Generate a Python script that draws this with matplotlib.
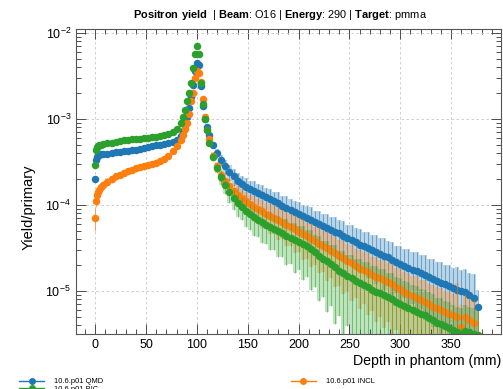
import matplotlib
matplotlib.use("Agg")
import matplotlib.pyplot as plt
import numpy as np
from matplotlib.lines import Line2D
from matplotlib.ticker import MultipleLocator, LogLocator, NullFormatter

plt.rcParams["font.family"] = ["Liberation Sans", "DejaVu Sans"]
plt.rcParams["mathtext.fontset"] = "custom"
plt.rcParams["mathtext.rm"] = "Liberation Sans"
plt.rcParams["mathtext.bf"] = "Liberation Sans:bold"

# Depth bins (mm)
depth = np.concatenate([
    [0, 1, 2, 3, 4, 6, 8],
    np.arange(12, 85, 4),
    np.arange(86, 113, 2),
    np.arange(116, 377, 4),
])

# Yield/primary, 10.6.p01 QMD
yield_qmd = [
    2.0e-4, 3.3e-4, 3.6e-4, 3.75e-4, 3.8e-4, 3.85e-4, 3.9e-4,
    3.95e-4, 4.0e-4, 4.1e-4, 4.15e-4, 4.2e-4, 4.25e-4, 4.35e-4, 4.4e-4, 4.5e-4, 4.6e-4,
    4.7e-4, 4.8e-4, 4.9e-4, 5.0e-4, 5.1e-4, 5.2e-4, 5.35e-4, 5.6e-4, 6.3e-4,
    7.2e-4, 8.5e-4, 1.05e-3, 1.35e-3, 1.8e-3, 2.5e-3, 3.6e-3, 4.4e-3, 4.2e-3, 2.4e-3,
    1.4e-3, 1.0e-3, 8.0e-4, 6.5e-4,
    5.0e-4, 4.0e-4, 3.3e-4, 2.8e-4, 2.4e-4, 2.15e-4, 1.9e-4, 1.75e-4, 1.62e-4, 1.52e-4,
    1.45e-4, 1.37e-4, 1.3e-4, 1.22e-4, 1.16e-4, 1.1e-4, 1.04e-4, 9.8e-5, 9.3e-5, 8.8e-5,
    8.3e-5, 7.9e-5, 7.5e-5, 7.1e-5, 6.7e-5, 6.3e-5, 6.0e-5, 5.7e-5, 5.4e-5, 5.1e-5,
    4.9e-5, 4.7e-5, 4.4e-5, 4.1e-5, 3.9e-5, 3.7e-5, 3.45e-5, 3.3e-5, 3.15e-5, 3.0e-5,
    2.85e-5, 2.7e-5, 2.55e-5, 2.45e-5, 2.3e-5, 2.15e-5, 2.05e-5, 1.95e-5, 1.85e-5, 1.75e-5,
    1.7e-5, 1.62e-5, 1.55e-5, 1.45e-5, 1.38e-5, 1.3e-5, 1.25e-5, 1.2e-5, 1.13e-5, 1.08e-5,
    1.04e-5, 1.0e-5, 9.6e-6, 8.9e-6, 8.3e-6, 6.5e-6,
]

# Yield/primary, 10.6.p01 BIC
yield_bic = [
    2.9e-4, 4.4e-4, 4.7e-4, 4.8e-4, 4.9e-4, 5.0e-4, 5.1e-4,
    5.2e-4, 5.3e-4, 5.4e-4, 5.5e-4, 5.6e-4, 5.7e-4, 5.8e-4, 5.85e-4, 5.9e-4, 6.0e-4,
    6.05e-4, 6.1e-4, 6.2e-4, 6.3e-4, 6.45e-4, 6.6e-4, 7.0e-4, 7.6e-4, 9.0e-4,
    1.05e-3, 1.25e-3, 1.6e-3, 2.0e-3, 2.6e-3, 3.9e-3, 5.6e-3, 7.1e-3, 5.6e-3, 2.6e-3,
    1.5e-3, 1.0e-3, 7.4e-4, 5.3e-4,
    3.6e-4, 2.7e-4, 2.1e-4, 1.7e-4, 1.42e-4, 1.2e-4, 1.05e-4, 9.5e-5, 8.6e-5, 7.8e-5,
    7.2e-5, 6.7e-5, 6.3e-5, 5.9e-5, 5.6e-5, 5.3e-5, 5.0e-5, 4.7e-5, 4.4e-5, 4.1e-5,
    3.9e-5, 3.7e-5, 3.5e-5, 3.3e-5, 3.05e-5, 2.8e-5, 2.55e-5, 2.35e-5, 2.2e-5, 2.05e-5,
    1.9e-5, 1.7e-5, 1.6e-5, 1.5e-5, 1.4e-5, 1.32e-5, 1.25e-5, 1.17e-5, 1.1e-5, 1.04e-5,
    9.8e-6, 9.4e-6, 8.9e-6, 8.4e-6, 8.0e-6, 7.5e-6, 7.1e-6, 6.7e-6, 6.3e-6, 6.0e-6,
    5.7e-6, 5.4e-6, 5.2e-6, 4.9e-6, 4.6e-6, 4.3e-6, 4.1e-6, 3.9e-6, 3.7e-6, 3.5e-6,
    3.3e-6, 3.2e-6, 3.4e-6, 3.3e-6, 3.2e-6, 3.1e-6,
]

# Yield/primary, 10.6.p01 INCL
yield_incl = [
    7.1e-5, 1.1e-4, 1.3e-4, 1.4e-4, 1.5e-4, 1.6e-4, 1.7e-4,
    1.85e-4, 2.0e-4, 2.15e-4, 2.25e-4, 2.35e-4, 2.45e-4, 2.55e-4, 2.65e-4, 2.75e-4, 2.8e-4,
    2.9e-4, 3.0e-4, 3.1e-4, 3.2e-4, 3.4e-4, 3.7e-4, 4.2e-4, 4.8e-4, 5.6e-4,
    6.5e-4, 7.6e-4, 8.9e-4, 1.15e-3, 1.6e-3, 2.0e-3, 3.0e-3, 3.6e-3, 3.4e-3, 2.7e-3,
    1.7e-3, 1.05e-3, 7.5e-4, 5.8e-4,
    3.7e-4, 2.8e-4, 2.25e-4, 1.9e-4, 1.65e-4, 1.45e-4, 1.3e-4, 1.2e-4, 1.1e-4, 1.02e-4,
    9.5e-5, 8.9e-5, 8.4e-5, 7.9e-5, 7.5e-5, 7.1e-5, 6.7e-5, 6.3e-5, 5.9e-5, 5.6e-5,
    5.2e-5, 4.9e-5, 4.6e-5, 4.3e-5, 4.0e-5, 3.8e-5, 3.55e-5, 3.35e-5, 3.15e-5, 2.95e-5,
    2.75e-5, 2.55e-5, 2.4e-5, 2.25e-5, 2.1e-5, 1.95e-5, 1.8e-5, 1.75e-5, 1.65e-5, 1.55e-5,
    1.45e-5, 1.4e-5, 1.33e-5, 1.27e-5, 1.2e-5, 1.1e-5, 1.05e-5, 9.8e-6, 9.3e-6, 8.8e-6,
    8.3e-6, 7.9e-6, 7.4e-6, 7.0e-6, 6.6e-6, 6.3e-6, 6.0e-6, 5.7e-6, 5.4e-6, 5.2e-6,
    5.0e-6, 3.8e-6, 5.0e-6, 4.6e-6, 4.2e-6, 3.1e-6,
]

# Relative statistical errors
relerr_qmd = [
    0.08, 0.05, 0.05, 0.05, 0.05, 0.05, 0.05,
    0.05, 0.05, 0.06, 0.05, 0.05, 0.06, 0.05, 0.05, 0.06, 0.05,
    0.05, 0.05, 0.06, 0.05, 0.05, 0.05, 0.05, 0.04, 0.04,
    0.04, 0.03, 0.03, 0.03, 0.02, 0.02, 0.02, 0.02, 0.02, 0.02,
    0.03, 0.03, 0.04, 0.05,
    0.08, 0.12, 0.15, 0.18, 0.2, 0.22, 0.25, 0.24, 0.28, 0.26,
    0.3, 0.27, 0.31, 0.29, 0.33, 0.3, 0.34, 0.31, 0.36, 0.32,
    0.35, 0.38, 0.33, 0.37, 0.4, 0.35, 0.42, 0.38, 0.44, 0.4,
    0.46, 0.41, 0.48, 0.43, 0.5, 0.45, 0.52, 0.47, 0.55, 0.5,
    0.58, 0.52, 0.6, 0.54, 0.62, 0.56, 0.64, 0.58, 0.66, 0.6,
    0.68, 0.62, 0.7, 0.64, 0.72, 0.66, 0.75, 0.68, 0.78, 0.7,
    0.82, 0.75, 0.85, 0.8, 0.9, 0.6,
]
relerr_bic = [
    0.06, 0.04, 0.04, 0.04, 0.04, 0.04, 0.04,
    0.04, 0.05, 0.04, 0.04, 0.05, 0.04, 0.04, 0.05, 0.04, 0.04,
    0.05, 0.04, 0.04, 0.04, 0.05, 0.04, 0.04, 0.04, 0.03,
    0.03, 0.03, 0.02, 0.02, 0.02, 0.02, 0.02, 0.02, 0.02, 0.02,
    0.03, 0.03, 0.04, 0.05,
    0.1, 0.14, 0.18, 0.22, 0.26, 0.28, 0.32, 0.3, 0.36, 0.34,
    0.4, 0.37, 0.43, 0.4, 0.47, 0.44, 0.5, 0.47, 0.55, 0.5,
    0.58, 0.53, 0.62, 0.56, 0.66, 0.6, 0.7, 0.64, 0.74, 0.67,
    0.78, 0.7, 0.82, 0.74, 0.86, 0.78, 0.9, 0.85, 0.95, 0.88,
    1.0, 0.9, 1.0, 0.92, 1.0, 0.95, 1.0, 0.93, 1.0, 0.96,
    1.0, 0.94, 1.0, 0.97, 1.0, 0.95, 1.0, 0.96, 1.0, 0.98,
    1.0, 0.97, 1.0, 0.98, 1.0, 0.9,
]
relerr_incl = [
    0.3, 0.15, 0.12, 0.1, 0.1, 0.1, 0.1,
    0.1, 0.09, 0.1, 0.08, 0.09, 0.1, 0.08, 0.09, 0.08, 0.09,
    0.08, 0.07, 0.08, 0.07, 0.07, 0.06, 0.06, 0.05, 0.05,
    0.04, 0.04, 0.03, 0.03, 0.03, 0.02, 0.02, 0.02, 0.02, 0.02,
    0.03, 0.03, 0.04, 0.06,
    0.1, 0.14, 0.17, 0.2, 0.22, 0.25, 0.28, 0.26, 0.3, 0.28,
    0.33, 0.3, 0.36, 0.33, 0.38, 0.35, 0.41, 0.37, 0.44, 0.4,
    0.47, 0.42, 0.5, 0.45, 0.52, 0.47, 0.55, 0.5, 0.58, 0.52,
    0.6, 0.55, 0.62, 0.57, 0.64, 0.58, 0.66, 0.6, 0.68, 0.62,
    0.7, 0.64, 0.72, 0.66, 0.74, 0.68, 0.75, 0.7, 0.76, 0.7,
    0.78, 0.72, 0.8, 0.74, 0.8, 0.75, 0.82, 0.76, 0.84, 0.78,
    1.5, 0.8, 0.85, 0.8, 0.85, 0.9,
]

series = [
    ("10.6.p01 QMD", yield_qmd, relerr_qmd, "#1f77b4"),
    ("10.6.p01 INCL", yield_incl, relerr_incl, "#ff7f0e"),
    ("10.6.p01 BIC", yield_bic, relerr_bic, "#2ca02c"),
]

fig = plt.figure(figsize=(5.03, 3.89), dpi=100)
ax = fig.add_axes([0.151, 0.141, 0.845, 0.784])

for name, vals, rel, col in series:
    assert len(vals) == len(depth) and len(rel) == len(depth), name
    v = np.array(vals)
    e = v * np.array(rel)
    lo = np.clip(v - e, 1e-8, None)
    hi = v + e
    ax.fill_between(depth, lo, hi, step="mid", color=col, alpha=0.3, lw=0)
    ax.vlines(depth, lo, hi, color=col, alpha=0.55, lw=0.7)
    ax.plot(depth, v, "o", color=col, ms=5.4, mec="none")

ax.set_yscale("log")
ax.set_xlim(-19, 399)
ax.set_ylim(3.15e-6, 1.1e-2)

ax.xaxis.set_major_locator(MultipleLocator(50))
ax.xaxis.set_minor_locator(MultipleLocator(10))
ax.yaxis.set_major_locator(LogLocator(base=10))
ax.yaxis.set_minor_locator(LogLocator(base=10, subs=np.arange(2, 10)))
ax.yaxis.set_minor_formatter(NullFormatter())
ax.tick_params(which="both", direction="in", top=True, right=True, labelsize=9, colors="#333333")
ax.tick_params(which="major", length=7, width=0.6)
ax.tick_params(which="minor", length=3.5, width=0.6)
ax.tick_params(axis="both", labelcolor="black")
for s in ax.spines.values():
    s.set_color("#555555")
    s.set_linewidth(0.8)

ax.grid(which="major", color="#c8c8c8", ls=(0, (3, 3)), lw=0.6)

ax.set_xlabel("Depth in phantom (mm)", loc="right", fontsize=10.2, labelpad=2)
ax.set_ylabel("Yield/primary", fontsize=10.5)
ax.yaxis.set_label_coords(-0.096, 0.416)

fig.text(0.557, 0.962,
         r"$\bf{Positron\ yield}$  | $\bf{Beam}$: O16 | $\bf{Energy}$: 290 | $\bf{Target}$: pmma",
         ha="center", va="center", fontsize=7.9)

handles = [
    Line2D([], [], color="#1f77b4", marker="o", ms=4, lw=1),
    Line2D([], [], color="#2ca02c", marker="o", ms=4, lw=1),
    Line2D([], [], color="#ff7f0e", marker="o", ms=4, lw=1),
]
labels = ["10.6.p01 QMD", "10.6.p01 BIC", "10.6.p01 INCL"]
fig.legend(handles, labels, loc="upper left", bbox_to_anchor=(0.03, 0.038),
           ncol=2, frameon=False, fontsize=5.4, handlelength=3.4,
           labelspacing=0.05, columnspacing=25, borderpad=0, handletextpad=1.3)

fig.savefig("out.png", dpi=100)
